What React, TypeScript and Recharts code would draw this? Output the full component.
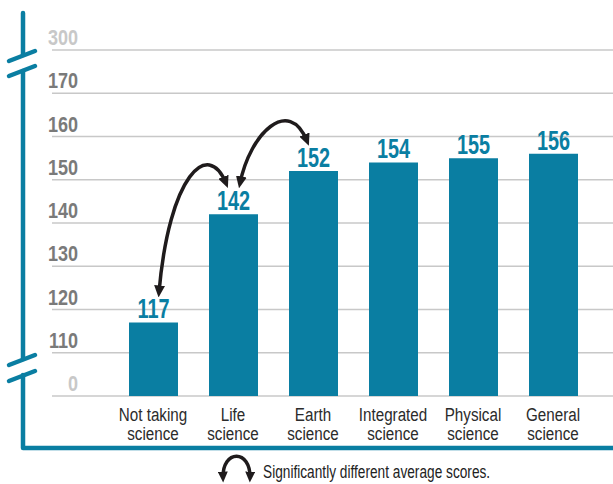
import React from "react";
import { BarChart, Bar, XAxis, YAxis, CartesianGrid, LabelList, ReferenceLine } from "recharts";

// Average scores by science course taken
const categories = [
  "Not taking science",
  "Life science",
  "Earth science",
  "Integrated science",
  "Physical science",
  "General science",
];
const scores = [117, 142, 152, 154, 155, 156];

// Broken value axis: every tick gets the same step
const yTickValues = [0, 110, 120, 130, 140, 150, 160, 170, 300];

// Bars whose averages differ significantly: [from, to]
const significantPairs: [number, number][] = [
  [1, 0],
  [1, 2],
];

const legendText = "Significantly different average scores.";

const TEAL = "#0a7ea2";
const INK = "#1f1b1c";
const FONT = "'Liberation Sans', Arial, sans-serif";

// Map a score to its position on the broken axis (linear inside each segment)
function toAxis(v: number): number {
  for (let i = 0; i < yTickValues.length - 1; i++) {
    const a = yTickValues[i];
    const b = yTickValues[i + 1];
    if (v >= a && v <= b) return i + (v - a) / (b - a);
  }
  return yTickValues.length - 1;
}

const data = categories.map((category, i) => ({
  category,
  score: scores[i],
  pos: toAxis(scores[i]),
}));

const axisTicks = yTickValues.map((_, i) => i);

// Condensed text: glyphs squeezed horizontally around the anchor point
function NarrowText(props: any) {
  const { x, y, squeeze, children, ...rest } = props;
  return (
    <text transform={`translate(${x},${y}) scale(${squeeze},1)`} x={0} y={0} fontFamily={FONT} {...rest}>
      {children}
    </text>
  );
}

function YTick(props: any) {
  const { x, y, payload } = props;
  const i = payload.value as number;
  const faded = i === 0 || i === yTickValues.length - 1;
  return (
    <NarrowText
      x={x + 26}
      y={y - 5}
      squeeze={0.82}
      textAnchor="end"
      fontWeight={700}
      fontSize={22}
      fill={faded ? "#c8c8c8" : "#7a7a7a"}
    >
      {yTickValues[i]}
    </NarrowText>
  );
}

function XTick(props: any) {
  const { x, y, payload } = props;
  const label = String(payload.value);
  const cut = label.lastIndexOf(" ");
  const lines = [label.slice(0, cut), label.slice(cut + 1)];
  return (
    <g>
      {lines.map((line, k) => (
        <NarrowText
          key={k}
          x={x}
          y={y + 25 + k * 18.5}
          squeeze={0.8}
          textAnchor="middle"
          fontSize={19}
          fill="#2b2b2b"
        >
          {line}
        </NarrowText>
      ))}
    </g>
  );
}

function ValueLabel(props: any) {
  const { x, y, width, value } = props;
  return (
    <NarrowText
      x={x + width / 2}
      y={y - 4}
      squeeze={0.71}
      textAnchor="middle"
      fontWeight={700}
      fontSize={28}
      fill={TEAL}
    >
      {value}
    </NarrowText>
  );
}

// Curved double-headed arrow arching over the two bar labels
function ArcArrow(props: any) {
  const { x1, y1, x2, y2 } = props;
  const dir = Math.sign(x2 - x1) || 1;
  const s = { x: x1 + dir * 7, y: y1 - 31 };
  const e = { x: x2 - dir * 6, y: y2 - 30 };
  const [lo, hi] = s.y > e.y ? [s, e] : [e, s];
  const dx = hi.x - lo.x;
  const c1 = { x: lo.x + 0.15 * dx, y: hi.y - 8 };
  const c2 = { x: hi.x - 18 * Math.sign(dx), y: hi.y - 45 };
  const id = `arc-head-${Math.round(x1)}-${Math.round(x2)}`;
  return (
    <g>
      <defs>
        <marker
          id={id}
          viewBox="0 0 12 11"
          refX={7}
          refY={5.5}
          markerWidth={12}
          markerHeight={11}
          markerUnits="userSpaceOnUse"
          orient="auto-start-reverse"
        >
          <path d="M0,0 L12,5.5 L0,11 z" fill={INK} />
        </marker>
      </defs>
      <path
        d={`M${lo.x},${lo.y} C${c1.x},${c1.y} ${c2.x},${c2.y} ${hi.x},${hi.y}`}
        fill="none"
        stroke={INK}
        strokeWidth={3.5}
        markerStart={`url(#${id})`}
        markerEnd={`url(#${id})`}
      />
    </g>
  );
}

function Frame() {
  return (
    <svg
      width={613}
      height={484}
      style={{ position: "absolute", left: 0, top: 0, pointerEvents: "none" }}
    >
      <defs>
        <marker
          id="legend-head"
          viewBox="0 0 12 11"
          refX={7}
          refY={5.5}
          markerWidth={11}
          markerHeight={10}
          markerUnits="userSpaceOnUse"
          orient="auto-start-reverse"
        >
          <path d="M0,0 L12,5.5 L0,11 z" fill={INK} />
        </marker>
      </defs>
      <g stroke={TEAL} strokeWidth={4.5} strokeLinecap="round" strokeLinejoin="round" fill="none">
        <path d="M23,13 V55 M23,71 V359 M23,375 V448 H616" />
        <path d="M9,61 L35,51 M9,76 L35,66" />
        <path d="M9,365 L35,355 M9,381 L35,371" />
      </g>
      <path
        d="M223,478 C222,449 251,449 250,478"
        fill="none"
        stroke={INK}
        strokeWidth={3.5}
        markerStart="url(#legend-head)"
        markerEnd="url(#legend-head)"
      />
      <NarrowText x={263} y={477.5} squeeze={0.74} fontSize={18.5} fill="#222">
        {legendText}
      </NarrowText>
    </svg>
  );
}

export default function App() {
  return (
    <div style={{ position: "absolute", left: 0, top: 0, width: 613, height: 484 }}>
      <BarChart
        width={613}
        height={484}
        data={data}
        margin={{ top: 50, right: 0, left: 0, bottom: 36 }}
      >
        <CartesianGrid vertical={false} stroke="#c8c8c8" strokeWidth={1.5} />
        <XAxis
          dataKey="category"
          height={52}
          padding={{ left: 61, right: 20 }}
          axisLine={false}
          tickLine={false}
          tickSize={0}
          tickMargin={0}
          interval={0}
          tick={<XTick />}
        />
        <YAxis
          type="number"
          width={52}
          domain={[0, yTickValues.length - 1]}
          ticks={axisTicks}
          interval={0}
          axisLine={false}
          tickLine={false}
          tickSize={0}
          tickMargin={0}
          tick={<YTick />}
        />
        <Bar dataKey="pos" fill={TEAL} barSize={49} isAnimationActive={false}>
          <LabelList dataKey="score" content={<ValueLabel />} />
        </Bar>
        {significantPairs.map(([from, to]) => (
          <ReferenceLine
            key={`${from}-${to}`}
            segment={[
              { x: categories[from], y: data[from].pos },
              { x: categories[to], y: data[to].pos },
            ]}
            ifOverflow="visible"
            shape={ArcArrow}
          />
        ))}
      </BarChart>
      <Frame />
    </div>
  );
}
